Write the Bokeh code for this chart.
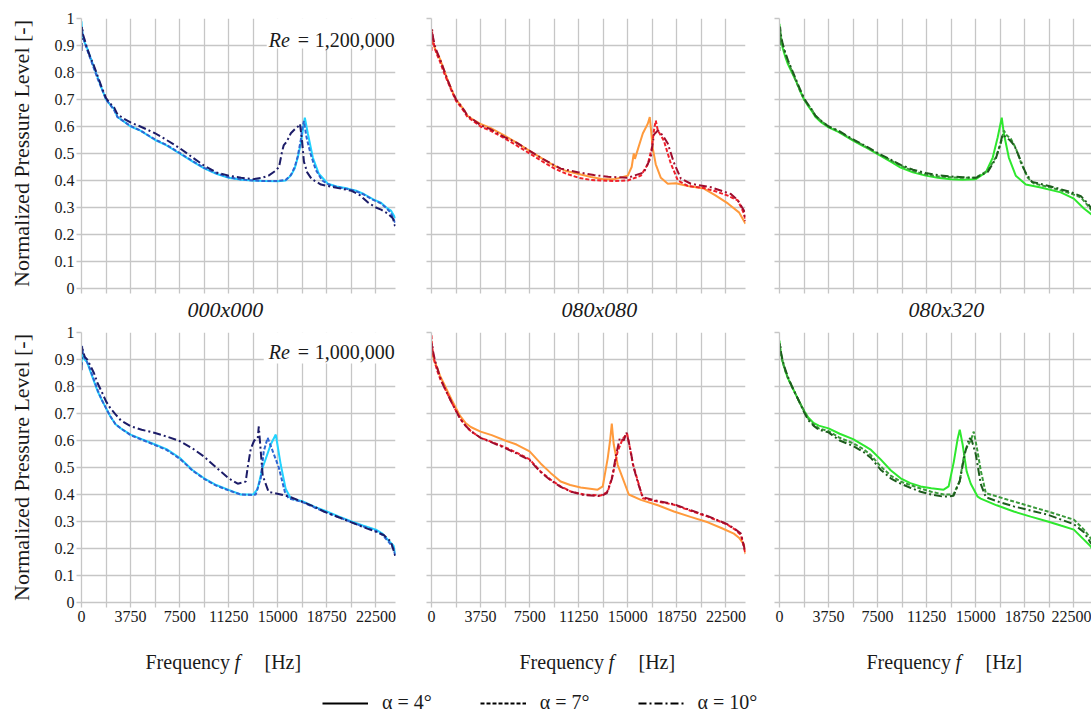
from bokeh.plotting import figure
from bokeh.layouts import column, row
from bokeh.models import Label, Legend, LegendItem, FixedTicker, Range1d, BoxAnnotation, Title
from bokeh.embed import file_html
from bokeh.resources import INLINE

# ---------------- data ----------------
X_MAJOR = [0, 3750, 7500, 11250, 15000, 18750, 22500]
X_MINOR = [1875, 5625, 9375, 13125, 16875, 20625]
Y_TICKS = [0, 0.1, 0.2, 0.3, 0.4, 0.5, 0.6, 0.7, 0.8, 0.9, 1]
Y_LABELS = ["0", "0.1", "0.2", "0.3", "0.4", "0.5", "0.6", "0.7", "0.8", "0.9", "1"]
CONFIGS = ["000x000", "080x080", "080x320"]
RE_VALUES = ["1,200,000", "1,000,000"]
ALPHA_LABELS = ["α = 4°", "α = 7°", "α = 10°"]

HEAD_F1 = [0, 40, 120, 250, 430, 650, 950, 1250, 1550, 1875, 2200, 2500, 2750, 3200, 3750]
HEAD_F2 = [0, 40, 120, 250, 430, 650, 950, 1250, 1550, 1875, 2200, 2600, 3000, 3750]

# Re = 1,200,000 / 000x000
f_a_hi_4 = HEAD_F1 + [4500, 5625, 6500, 7500, 8500, 9375, 10300, 11250, 12200, 13125, 14000, 15000, 15600, 16000, 16300, 16530, 16760, 16990, 17070, 17300, 17680, 18140, 18830, 19500, 20360, 21000, 21580, 22300, 22890, 23300, 23650, 24000]
y_a_hi_4 = [0.99, 0.96, 0.93, 0.91, 0.89, 0.86, 0.82, 0.78, 0.74, 0.70, 0.68, 0.665, 0.635, 0.62, 0.60,
            0.585, 0.55, 0.53, 0.50, 0.47, 0.445, 0.425, 0.41, 0.403, 0.40, 0.398, 0.397, 0.40, 0.418, 0.445, 0.485, 0.537, 0.61, 0.633, 0.574, 0.485, 0.425, 0.388, 0.378, 0.37, 0.362, 0.35, 0.33, 0.318, 0.30, 0.289, 0.26]
f_a_hi_7 = HEAD_F1 + [4500, 5625, 6500, 7500, 8500, 9375, 10300, 11250, 12200, 13125, 14000, 15000, 15600, 16000, 16300, 16530, 16760, 16900, 17000, 17200, 17500, 17900, 18400, 18900, 19500, 20360, 21000, 21580, 22300, 22890, 23300, 23650, 24000]
y_a_hi_7 = [0.97, 0.95, 0.93, 0.91, 0.885, 0.855, 0.815, 0.775, 0.74, 0.70, 0.68, 0.66, 0.635, 0.62, 0.602,
            0.585, 0.552, 0.532, 0.502, 0.472, 0.447, 0.427, 0.412, 0.404, 0.40, 0.398, 0.398, 0.402, 0.42, 0.45, 0.49, 0.55, 0.60, 0.62, 0.56, 0.50, 0.44, 0.40, 0.385, 0.376, 0.368, 0.36, 0.348, 0.328, 0.315, 0.298, 0.28, 0.24]
f_a_hi_10 = HEAD_F1 + [4500, 5625, 6500, 7500, 8500, 9375, 10300, 11250, 12200, 13125, 13800, 14300, 14800, 15100, 15300, 15450, 15700, 16000, 16300, 16550, 16700, 16850, 17000, 17250, 17600, 18300, 19300, 20640, 21300, 21860, 22500, 22900, 23400, 23800, 24000]
y_a_hi_10 = [0.88, 0.97, 0.94, 0.92, 0.89, 0.86, 0.825, 0.785, 0.745, 0.705, 0.685, 0.67, 0.645, 0.63, 0.615,
             0.60, 0.575, 0.55, 0.52, 0.485, 0.455, 0.43, 0.418, 0.41, 0.405, 0.41, 0.418, 0.435, 0.45, 0.50, 0.53, 0.545, 0.575, 0.59, 0.60, 0.61, 0.55, 0.47, 0.43, 0.405, 0.385, 0.375, 0.362, 0.345, 0.32, 0.30, 0.292, 0.278, 0.26, 0.225]

# Re = 1,200,000 / 080x080
f_b_hi_4 = HEAD_F1 + [4500, 5625, 6500, 7500, 8500, 9375, 10300, 11250, 12200, 13125, 14000, 15000, 15300, 15460, 15550, 15800, 16150, 16530, 16684, 16910, 17140, 17530, 18060, 18670, 19590, 20820, 21700, 22650, 23500, 24000]
y_b_hi_4 = [0.96, 0.93, 0.91, 0.89, 0.87, 0.85, 0.81, 0.77, 0.735, 0.70, 0.68, 0.66, 0.64, 0.625, 0.61,
            0.595, 0.565, 0.54, 0.51, 0.48, 0.455, 0.435, 0.424, 0.413, 0.405, 0.405, 0.418, 0.45, 0.50, 0.48, 0.52, 0.574, 0.61, 0.635, 0.52, 0.46, 0.41, 0.388, 0.39, 0.38, 0.37, 0.345, 0.315, 0.282, 0.24]
f_b_hi_7 = HEAD_F1 + [4500, 5625, 6500, 7500, 8500, 9375, 10300, 11250, 12200, 13125, 14000, 15000, 16000, 16530, 16840, 17000, 17140, 17300, 17760, 18290, 18830, 19590, 20820, 21700, 22650, 23420, 23880, 24000]
y_b_hi_7 = [0.88, 0.95, 0.92, 0.89, 0.865, 0.84, 0.80, 0.765, 0.73, 0.695, 0.675, 0.655, 0.635, 0.62, 0.60,
            0.585, 0.555, 0.53, 0.50, 0.47, 0.445, 0.425, 0.41, 0.402, 0.40, 0.398, 0.40, 0.418, 0.46, 0.52, 0.585, 0.622, 0.585, 0.548, 0.463, 0.40, 0.38, 0.372, 0.36, 0.344, 0.326, 0.278, 0.25]
f_b_hi_10 = HEAD_F1 + [4500, 5625, 6500, 7500, 8500, 9870, 11250, 12400, 13500, 15000, 16230, 16760, 17000, 17300, 17680, 18060, 18520, 19060, 19820, 21350, 22880, 23420, 23880, 24000]
y_b_hi_10 = [0.92, 0.96, 0.93, 0.90, 0.875, 0.85, 0.81, 0.77, 0.735, 0.70, 0.68, 0.66, 0.64, 0.625, 0.605,
             0.59, 0.56, 0.54, 0.51, 0.48, 0.444, 0.43, 0.42, 0.414, 0.41, 0.43, 0.485, 0.57, 0.585, 0.567, 0.537, 0.467, 0.407, 0.388, 0.375, 0.35, 0.326, 0.289, 0.25]

# Re = 1,200,000 / 080x320
f_c_hi_4 = HEAD_F1 + [4500, 5625, 6500, 7500, 8500, 9260, 10200, 11170, 12100, 13090, 14000, 15000, 15770, 16300, 16680, 16990, 17150, 17530, 18060, 18830, 19970, 21500, 22500, 23270, 23850]
y_c_hi_4 = [0.98, 0.95, 0.92, 0.89, 0.86, 0.83, 0.80, 0.77, 0.735, 0.70, 0.675, 0.655, 0.635, 0.615, 0.597,
            0.58, 0.548, 0.525, 0.498, 0.47, 0.448, 0.43, 0.418, 0.41, 0.405, 0.403, 0.405, 0.43, 0.485, 0.56, 0.633, 0.574, 0.485, 0.418, 0.385, 0.374, 0.356, 0.333, 0.296, 0.274]
f_c_hi_7 = HEAD_F1 + [4500, 5625, 6500, 7500, 8500, 9260, 10200, 11170, 12100, 13090, 14000, 15000, 15920, 16530, 16910, 17150, 17380, 17680, 18060, 18450, 18980, 19440, 20740, 22270, 23040, 23570, 23850]
y_c_hi_7 = [0.88, 0.96, 0.93, 0.90, 0.87, 0.84, 0.805, 0.77, 0.735, 0.70, 0.68, 0.66, 0.64, 0.62, 0.60,
            0.582, 0.55, 0.528, 0.50, 0.475, 0.455, 0.435, 0.422, 0.415, 0.412, 0.41, 0.41, 0.437, 0.485, 0.537, 0.585, 0.567, 0.555, 0.52, 0.467, 0.41, 0.389, 0.374, 0.352, 0.337, 0.307, 0.289]
f_c_hi_10 = HEAD_F1 + [4500, 5625, 6500, 7500, 8500, 9260, 10200, 11170, 12100, 13090, 14000, 15000, 15920, 16530, 16850, 17050, 17300, 17600, 17950, 18300, 18800, 19300, 20740, 22270, 23040, 23570, 23850]
y_c_hi_10 = [0.90, 0.97, 0.935, 0.905, 0.875, 0.845, 0.81, 0.775, 0.74, 0.705, 0.68, 0.66, 0.64, 0.62, 0.60,
             0.585, 0.552, 0.53, 0.502, 0.477, 0.458, 0.44, 0.428, 0.42, 0.415, 0.412, 0.41, 0.432, 0.48, 0.53, 0.57, 0.56, 0.55, 0.53, 0.49, 0.43, 0.395, 0.378, 0.357, 0.342, 0.315, 0.295]

# Re = 1,000,000 / 000x000
f_a_lo_4 = HEAD_F2 + [4600, 5625, 6500, 7500, 8500, 9375, 10300, 11250, 12170, 13125, 13450, 13850, 14460, 14850, 15230, 15610, 16000, 16880, 17800, 18750, 19700, 20640, 21500, 22500, 23000, 23520, 23850, 24000]
y_a_lo_4 = [0.88, 0.92, 0.91, 0.90, 0.89, 0.86, 0.82, 0.78, 0.75, 0.72, 0.69, 0.66, 0.645, 0.622,
            0.605, 0.585, 0.568, 0.536, 0.49, 0.46, 0.435, 0.417, 0.40, 0.40, 0.42, 0.50, 0.585, 0.622, 0.51, 0.42, 0.385, 0.375, 0.355, 0.337, 0.318, 0.30, 0.285, 0.27, 0.255, 0.227, 0.21, 0.18]
f_a_lo_7 = HEAD_F2 + [4600, 5625, 6500, 7500, 8500, 9375, 10300, 11250, 12170, 13125, 13320, 13700, 13930, 14230, 14620, 15080, 15540, 15840, 16880, 17800, 18750, 19700, 20640, 21500, 22500, 23000, 23520, 23850, 24000]
y_a_lo_7 = [0.92, 0.95, 0.92, 0.905, 0.89, 0.865, 0.825, 0.785, 0.75, 0.72, 0.69, 0.66, 0.645, 0.62,
            0.603, 0.583, 0.565, 0.533, 0.488, 0.458, 0.433, 0.415, 0.40, 0.398, 0.40, 0.46, 0.56, 0.61, 0.56, 0.50, 0.41, 0.385, 0.372, 0.352, 0.333, 0.315, 0.297, 0.282, 0.265, 0.25, 0.222, 0.20, 0.17]
f_a_lo_10 = HEAD_F2 + [4600, 5625, 6500, 7500, 8500, 9375, 10300, 11250, 11940, 12550, 12700, 12940, 13200, 13470, 13550, 13700, 13850, 14300, 15230, 16000, 16760, 17800, 18520, 19700, 20640, 21500, 22500, 23100, 23650, 24000]
y_a_lo_10 = [0.86, 0.95, 0.93, 0.91, 0.90, 0.88, 0.85, 0.81, 0.78, 0.745, 0.72, 0.697, 0.675, 0.653,
             0.64, 0.628, 0.615, 0.598, 0.57, 0.54, 0.50, 0.46, 0.44, 0.448, 0.50, 0.57, 0.60, 0.607, 0.652, 0.56, 0.47, 0.41, 0.40, 0.39, 0.375, 0.355, 0.337, 0.315, 0.297, 0.28, 0.262, 0.25, 0.225, 0.17]

# Re = 1,000,000 / 080x080
f_b_lo_4 = HEAD_F2 + [4600, 5625, 6500, 7500, 8340, 9100, 9870, 10600, 11400, 12700, 13090, 13470, 13650, 13780, 13930, 14230, 14620, 15080, 16000, 17300, 18530, 19800, 21120, 22200, 23110, 23500, 23880, 24000]
y_b_lo_4 = [0.97, 0.94, 0.91, 0.89, 0.87, 0.84, 0.81, 0.78, 0.75, 0.72, 0.69, 0.665, 0.65, 0.633,
            0.62, 0.60, 0.585, 0.56, 0.515, 0.48, 0.448, 0.435, 0.426, 0.418, 0.43, 0.535, 0.60, 0.663, 0.585, 0.51, 0.46, 0.40, 0.38, 0.36, 0.337, 0.317, 0.297, 0.275, 0.255, 0.24, 0.215, 0.18]
f_b_lo_7 = HEAD_F2 + [4600, 5625, 6500, 7500, 8340, 9100, 9870, 10700, 11650, 12930, 13470, 13850, 14230, 14620, 14950, 15100, 15380, 15770, 16150, 17300, 18530, 19800, 21120, 22600, 23200, 23650, 24000]
y_b_lo_7 = [0.99, 0.95, 0.92, 0.89, 0.86, 0.83, 0.80, 0.77, 0.74, 0.71, 0.68, 0.655, 0.635, 0.61,
            0.595, 0.575, 0.555, 0.53, 0.485, 0.455, 0.43, 0.41, 0.40, 0.396, 0.41, 0.473, 0.56, 0.607, 0.625, 0.59, 0.515, 0.45, 0.386, 0.374, 0.362, 0.34, 0.318, 0.289, 0.27, 0.25, 0.18]
f_b_lo_10 = HEAD_F2 + [4600, 5625, 6500, 7500, 8340, 9100, 9870, 10700, 11650, 12930, 13400, 13800, 14100, 14400, 14700, 14900, 15150, 15450, 15800, 16150, 17300, 18530, 19800, 21120, 22600, 23200, 23650, 24000]
y_b_lo_10 = [0.93, 0.96, 0.93, 0.90, 0.87, 0.835, 0.80, 0.77, 0.74, 0.71, 0.68, 0.655, 0.635, 0.61,
             0.593, 0.572, 0.552, 0.527, 0.483, 0.453, 0.428, 0.41, 0.398, 0.394, 0.405, 0.46, 0.545, 0.61, 0.60, 0.63, 0.58, 0.50, 0.44, 0.39, 0.376, 0.364, 0.342, 0.32, 0.29, 0.272, 0.255, 0.185]

# Re = 1,000,000 / 080x320
f_c_lo_4 = HEAD_F2 + [4600, 5625, 6500, 7000, 7730, 8500, 9260, 10000, 10790, 11600, 12550, 12930, 13320, 13620, 13780, 14000, 14310, 14620, 15150, 15380, 16600, 17910, 19200, 20510, 21500, 22500, 23270, 23800, 24000]
y_c_lo_4 = [0.97, 0.95, 0.92, 0.89, 0.86, 0.83, 0.80, 0.77, 0.74, 0.71, 0.685, 0.665, 0.655, 0.645,
            0.625, 0.605, 0.58, 0.565, 0.53, 0.49, 0.46, 0.442, 0.43, 0.423, 0.418, 0.43, 0.52, 0.607, 0.64, 0.585, 0.485, 0.44, 0.392, 0.385, 0.36, 0.337, 0.318, 0.30, 0.285, 0.27, 0.233, 0.207, 0.19]
f_c_lo_7 = HEAD_F2 + [4600, 5625, 6500, 7000, 7730, 8500, 9260, 10000, 10790, 11600, 12550, 13300, 13780, 14160, 14620, 14850, 15100, 15380, 15770, 16680, 17910, 20510, 22500, 23270, 23800, 24000]
y_c_lo_7 = [0.95, 0.94, 0.915, 0.89, 0.86, 0.83, 0.80, 0.77, 0.74, 0.71, 0.68, 0.66, 0.645, 0.635,
            0.61, 0.59, 0.565, 0.545, 0.504, 0.47, 0.448, 0.435, 0.422, 0.41, 0.40, 0.40, 0.45, 0.56, 0.60, 0.633, 0.57, 0.49, 0.405, 0.392, 0.374, 0.337, 0.307, 0.27, 0.237, 0.22]
f_c_lo_10 = HEAD_F2 + [4600, 5625, 6500, 7000, 7730, 8500, 9260, 10000, 10790, 11600, 12550, 13300, 13780, 14160, 14500, 14700, 15000, 15380, 15770, 16680, 17910, 20510, 22500, 23270, 23800, 24000]
y_c_lo_10 = [0.93, 0.96, 0.925, 0.895, 0.865, 0.835, 0.80, 0.77, 0.74, 0.705, 0.675, 0.655, 0.64, 0.63,
             0.60, 0.58, 0.555, 0.535, 0.492, 0.46, 0.44, 0.425, 0.41, 0.40, 0.392, 0.395, 0.45, 0.55, 0.61, 0.60, 0.55, 0.44, 0.39, 0.374, 0.356, 0.325, 0.29, 0.26, 0.22, 0.21]

SERIES = [
    [[(f_a_hi_4, y_a_hi_4), (f_a_hi_7, y_a_hi_7), (f_a_hi_10, y_a_hi_10)],
     [(f_b_hi_4, y_b_hi_4), (f_b_hi_7, y_b_hi_7), (f_b_hi_10, y_b_hi_10)],
     [(f_c_hi_4, y_c_hi_4), (f_c_hi_7, y_c_hi_7), (f_c_hi_10, y_c_hi_10)]],
    [[(f_a_lo_4, y_a_lo_4), (f_a_lo_7, y_a_lo_7), (f_a_lo_10, y_a_lo_10)],
     [(f_b_lo_4, y_b_lo_4), (f_b_lo_7, y_b_lo_7), (f_b_lo_10, y_b_lo_10)],
     [(f_c_lo_4, y_c_lo_4), (f_c_lo_7, y_c_lo_7), (f_c_lo_10, y_c_lo_10)]],
]

# ---------------- style / layout ----------------
FONT = "Liberation Serif"
GRID = "#c6c6c6"
TEXT = "#1a1a1a"
COLORS = [["#22D3FF", "#2F66D2", "#1C1C68"],
          ["#FF9A3C", "#F0202A", "#A00D2E"],
          ["#2EE82E", "#3A9A3A", "#1D5C1D"]]
DASHES = ["solid", "4 2", "8 3 2 3"]

LEFT_B = [81, 20, 17]
RIGHT_B = [16, 17, 0]
FRAME_W = [314, 314, 312]
X_END = [24000, 24000, 23850]
TITLE_OFF = [106, 130, 129]
FREQ_PX = [145, 519, 866]


def make_panel(r, c):
    p = figure(frame_width=FRAME_W[c], frame_height=270,
               x_range=Range1d(0, X_END[c]), y_range=Range1d(0, 1),
               min_border_left=LEFT_B[c], min_border_right=RIGHT_B[c],
               min_border_top=18 if r == 0 else 9, min_border_bottom=34 if r == 0 else 30,
               toolbar_location=None, output_backend="svg", title=None,
               outline_line_color=None, background_fill_color="white",
               border_fill_color="white")
    xax = p.xaxis[0]
    yax = p.yaxis[0]
    # numbers where the reference shows them, tick marks only elsewhere
    if r == 1:
        xax.ticker = FixedTicker(ticks=X_MAJOR, minor_ticks=X_MINOR)
    else:
        xax.ticker = FixedTicker(ticks=[], minor_ticks=X_MAJOR + X_MINOR)
    if c == 0:
        yax.ticker = FixedTicker(ticks=Y_TICKS)
        yax.major_label_overrides = dict(zip(Y_TICKS, Y_LABELS))
    else:
        yax.ticker = FixedTicker(ticks=[], minor_ticks=Y_TICKS)
    p.xgrid[0].ticker = FixedTicker(ticks=X_MAJOR, minor_ticks=X_MINOR)
    p.ygrid[0].ticker = FixedTicker(ticks=Y_TICKS)
    for ax in (xax, yax):
        ax.axis_line_color = GRID
        ax.axis_line_width = 1.3
        ax.major_tick_line_color = GRID
        ax.minor_tick_line_color = GRID
        ax.major_tick_line_width = 1.3
        ax.minor_tick_line_width = 1.3
        ax.major_tick_in = 0
        ax.major_tick_out = 5
        ax.minor_tick_in = 0
        ax.minor_tick_out = 5
        ax.major_label_text_font = FONT
        ax.major_label_text_font_size = "16px"
        ax.major_label_text_color = TEXT
    xax.major_label_standoff = 3
    yax.major_label_standoff = 2
    if c == 0:
        yax.axis_label = "Normalized Pressure Level [-]"
        yax.axis_label_text_font = FONT
        yax.axis_label_text_font_size = "22px"
        yax.axis_label_text_font_style = "normal"
        yax.axis_label_text_color = TEXT
        yax.axis_label_standoff = 18
    for g in (p.xgrid[0], p.ygrid[0]):
        g.grid_line_color = GRID
        g.grid_line_width = 1.3
    p.xgrid[0].minor_grid_line_color = GRID
    p.xgrid[0].minor_grid_line_width = 1.3

    for k, (f, y) in enumerate(SERIES[r][c]):
        p.line(f, y, line_color=COLORS[c][k], line_width=2, line_dash=DASHES[k])

    if r == 0:
        p.add_layout(Title(text=CONFIGS[c], align="left", offset=TITLE_OFF[c], standoff=3,
                           text_font=FONT, text_font_style="italic", text_font_size="22px",
                           text_color=TEXT), "below")
    if c == 0:
        p.add_layout(BoxAnnotation(left=14158 if r == 0 else 13929, right=25500,
                                   bottom=0.889 if r == 0 else 0.885, top=1.04,
                                   fill_color="white", fill_alpha=1.0, line_color=None))
        yb = 0.922 if r == 0 else 0.9296
        for txt, off, style in (("Re", 0, "italic"), ("=", 29, "normal"), (RE_VALUES[r], 46, "normal")):
            p.add_layout(Label(x=14311, y=yb, x_offset=off, text=txt, text_font=FONT,
                               text_font_style=style, text_font_size="20px",
                               text_align="left", text_baseline="alphabetic", text_color=TEXT))
    return p


rows = [row(*[make_panel(r, c) for c in range(3)]) for r in range(2)]

# caption strip: axis titles + legend (pixel coordinates)
CAP_H = 82
cap = figure(width=1091, height=CAP_H, x_range=Range1d(0, 1091), y_range=Range1d(0, CAP_H),
             x_axis_type=None, y_axis_type=None, toolbar_location=None,
             output_backend="svg", title=None, min_border=0,
             outline_line_color=None, background_fill_color="white", border_fill_color="white")
cap.grid.visible = False
for c in range(3):
    for txt, off, style in (("Frequency", 0, "normal"), ("f", 89, "italic"), ("[Hz]", 119, "normal")):
        cap.add_layout(Label(x=FREQ_PX[c] + off, y=53, text=txt, text_font=FONT,
                             text_font_style=style, text_font_size="20px",
                             text_align="left", text_baseline="alphabetic", text_color=TEXT))
items = []
for k in range(3):
    rr = cap.line(x=[-20, -10], y=[-20, -10], line_color="black", line_width=2, line_dash=DASHES[k])
    items.append(LegendItem(label=ALPHA_LABELS[k], renderers=[rr]))
leg = Legend(items=items, orientation="horizontal", location=(322, 0),
             glyph_width=46, glyph_height=14, label_height=14, label_standoff=14,
             spacing=48, padding=0, margin=0, border_line_color=None,
             background_fill_alpha=0, label_text_font=FONT, label_text_font_size="20px",
             label_text_color=TEXT)
cap.add_layout(leg)

layout = column(rows[0], rows[1], cap)
open("out.html", "w").write(file_html(layout, INLINE))
